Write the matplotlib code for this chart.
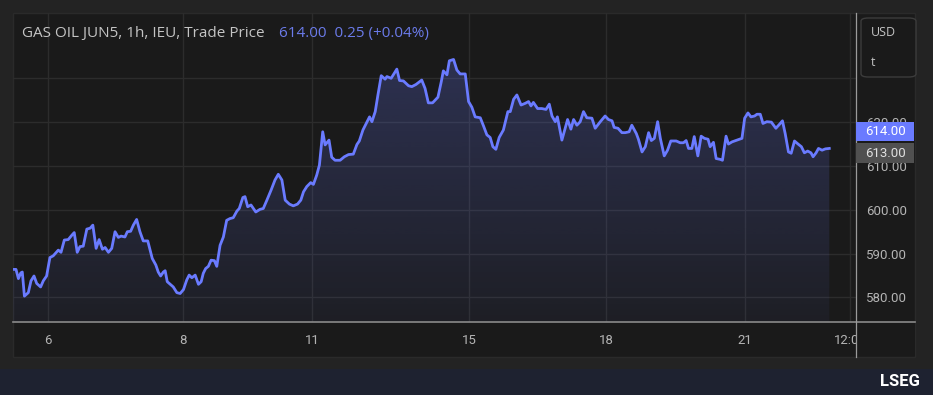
import numpy as np
import matplotlib
matplotlib.use("Agg")
import matplotlib.pyplot as plt
from matplotlib.patches import Rectangle, FancyBboxPatch
from matplotlib.lines import Line2D

# hourly bars (hours since first bar) and trade price
hours = [
    0.0, 1.0, 1.8, 2.6, 3.1, 3.8, 5.1, 6.0, 7.0, 7.9, 9.2, 10.1, 11.2, 12.3, 13.4,
    15.1, 16.0, 17.1, 18.4, 19.6, 20.4, 21.4, 22.3, 23.4, 24.6, 25.7, 26.6, 27.7,
    28.7, 29.8, 30.7, 31.8, 32.9, 34.0, 35.1, 36.0, 37.3, 38.1, 39.2, 40.1, 41.2,
    42.3, 43.4, 44.9,
    46.4, 47.6, 48.4, 49.2, 50.1, 50.7, 51.4, 52.7, 53.4, 54.6, 55.7, 56.8, 57.9,
    58.7, 59.6, 60.7, 61.8, 62.7, 63.4, 64.2, 65.1, 66.0, 67.1, 67.9, 69.0, 70.1,
    71.2, 72.3, 73.4, 74.6, 75.4, 76.6, 77.3, 78.2, 79.3, 80.9, 82.3, 83.4, 84.6,
    86.0, 87.3, 88.4, 89.6,
    90.7, 92.1, 93.4, 94.8, 95.9, 96.8, 97.9, 99.2, 100.1, 101.2, 102.1, 103.2,
    104.0, 104.8, 105.3, 106.2, 107.3, 109.0, 110.4, 111.8, 113.4, 114.6, 115.4,
    116.6, 117.7, 118.8, 119.6, 120.7, 121.6, 122.7, 124.0, 124.6, 126.0, 127.9,
    128.8, 130.1, 131.8, 132.9, 134.3, 136.2,
    137.3, 138.4, 139.8, 141.6, 142.7, 143.4, 144.6, 145.4, 146.8, 147.9, 149.0,
    150.7, 151.8, 152.9, 154.0, 155.7, 156.8, 157.9, 159.0, 159.9, 160.9, 162.0,
    163.4, 164.9, 165.7, 166.8, 167.9, 169.3, 170.7, 171.8, 172.6, 173.4, 174.8,
    176.2, 177.6, 178.7, 179.6, 180.7,
    181.4, 182.9, 184.8, 185.9, 186.8, 187.9, 189.0, 190.1, 191.2, 192.9, 194.0,
    195.7, 197.3, 198.4, 199.6, 200.3, 201.6, 202.9, 204.0, 205.3, 206.2, 207.7,
    208.4, 209.6, 210.7, 211.8, 212.7, 213.7, 214.8, 215.7, 217.0, 218.1, 219.2,
    221.0, 222.3, 223.4, 224.3,
    225.1, 226.2, 227.0, 228.2, 229.3, 230.4, 231.6, 232.3, 233.4, 234.3, 235.7,
    236.4, 237.6, 238.4, 239.6, 241.2, 242.9, 243.8, 244.9, 245.9, 247.1, 247.9,
    249.0, 249.9, 251.2, 252.7, 254.2, 255.4, 256.4, 257.3, 258.4, 259.3, 260.4,
    261.6, 262.7, 263.7, 264.8, 265.9, 266.6, 267.6, 268.4, 269.6, 270.7, 272.0,
]
price = [
    586.4, 586.4, 584.3, 585.6, 585.8, 580.3, 581.1, 583.8, 584.9, 583.2, 582.4,
    583.8, 584.9, 589.1, 589.5, 590.8, 590.3, 593.1, 593.2, 594.2, 594.8, 590.3,
    591.6, 591.7, 595.6, 595.8, 596.5, 591.2, 593.2, 591.0, 591.4, 590.3, 591.2,
    595.0, 593.7, 594.0, 593.8, 595.0, 595.1, 596.5, 597.8, 595.0, 592.9, 592.9,
    588.9, 587.4, 585.8, 584.9, 585.8, 586.1, 583.6, 582.8, 582.4, 581.1, 580.9,
    581.8, 584.0, 585.1, 584.5, 585.1, 583.0, 583.6, 585.5, 586.6, 587.1, 588.5,
    588.4, 587.1, 591.9, 593.8, 597.6, 598.0, 598.2, 599.7, 600.3, 602.8, 603.0,
    600.7, 601.1, 599.5, 600.1, 600.3, 602.2, 604.5, 606.8, 608.1, 606.8,
    602.2, 601.3, 600.9, 601.3, 602.2, 604.1, 605.3, 606.2, 605.8, 607.9, 610.2,
    617.8, 614.8, 615.5, 615.9, 612.0, 611.3, 611.3, 612.1, 612.6, 612.7, 614.9,
    615.7, 618.2, 619.7, 621.2, 620.1, 622.4, 626.2, 630.6, 629.8, 630.4, 630.0,
    632.1, 629.5, 629.4, 628.3, 628.1, 628.6, 629.6,
    627.7, 624.4, 624.4, 625.7, 629.2, 631.7, 630.8, 634.0, 634.3, 631.9, 631.0,
    631.0, 624.7, 623.4, 621.2, 621.0, 619.1, 617.1, 616.5, 614.4, 613.8, 616.5,
    618.2, 622.4, 622.4, 625.2, 626.2, 623.9, 624.3, 624.7, 623.7, 624.5, 623.1,
    623.1, 622.9, 624.1, 621.4, 620.1,
    621.2, 615.9, 620.6, 618.4, 620.6, 619.3, 620.1, 622.4, 621.0, 620.9, 618.6,
    620.1, 621.4, 620.6, 620.3, 618.8, 618.6, 617.6, 617.6, 617.8, 619.3, 617.4,
    616.1, 613.2, 614.4, 617.6, 615.8, 616.3, 620.1, 616.3, 612.3, 613.6, 615.7,
    615.7, 615.3, 615.3, 615.8,
    614.0, 614.0, 616.7, 612.3, 616.8, 616.3, 616.1, 614.4, 615.4, 611.7, 611.5,
    611.3, 616.8, 615.0, 615.5, 615.9, 616.3, 620.9, 622.1, 621.2, 621.4, 621.8,
    621.8, 619.7, 620.1, 620.0, 618.6, 619.5, 620.3, 617.4, 613.2, 612.9, 615.7,
    615.0, 614.4, 613.0, 613.4, 613.0, 612.1, 613.0, 614.0, 613.6, 613.9, 614.0,
]

tick_pos = [11.6, 56.8, 99.6, 152.0, 197.6, 243.8, 279.0]
tick_labels = ["6", "8", "11", "15", "18", "21", "12:00"]
y_ticks = [580, 590, 600, 610, 620, 630]
y_labels = ["580.00", "590.00", "600.00", "610.00", "620.00", ""]

title = "GAS OIL JUN5, 1h, IEU, Trade Price"
last_text = "614.00  0.25 (+0.04%)"
last_price = "614.00"
prev_close = "613.00"

W, H = 933, 395
bg_outer = "#232323"
bg_panel = "#1a1a1a"
grid_c = "#2c2c2c"
line_c = "#6a7bff"
text_c = "#c4c4c4"

fig = plt.figure(figsize=(W / 100, H / 100), dpi=100, facecolor=bg_outer)


def fx(px):
    return px / W


def fy(py):
    return 1 - py / H


# chart panel
fig.patches.append(Rectangle((fx(13), fy(357)), fx(915 - 13), (357 - 13) / H,
                             transform=fig.transFigure, facecolor=bg_panel,
                             edgecolor="#2a2a2a", lw=1, zorder=-1))
# bottom band
fig.patches.append(Rectangle((0, 0), 1, (H - 369) / H, transform=fig.transFigure,
                             facecolor="#1e2230", edgecolor="none", zorder=-1))

ax = fig.add_axes([fx(13), fy(322), fx(856 - 13), (322 - 13) / H])
ax.patch.set_alpha(0)

ymin, ymax = 574.4, 644.9

# gradient fill under the line
x = np.array(hours)
y = np.array(price)
poly = ax.fill_between(x, y, ymin, color="none", lw=0)
grad = np.linspace(0.05, 0.24, 256).reshape(-1, 1)
rgba = np.zeros((256, 1, 4))
rgba[..., 0] = 0x6a / 255
rgba[..., 1] = 0x7b / 255
rgba[..., 2] = 1.0
rgba[..., 3] = grad
img = ax.imshow(rgba, extent=[x.min(), x.max(), ymin, y.max()], origin="lower",
                aspect="auto", zorder=1)
img.set_clip_path(poly.get_paths()[0], transform=ax.transData)
ax.set_xlim(0, 280.9)
ax.set_ylim(ymin, ymax)

ax.plot(x, y, color=line_c, lw=2.0, zorder=3, solid_joinstyle="round")

ax.set_yticks(y_ticks)
ax.set_yticklabels(y_labels)
ax.set_xticks(tick_pos)
ax.set_xticklabels(tick_labels)
ax.yaxis.tick_right()
ax.tick_params(axis="y", length=0, pad=7, colors="#b4b4b4", labelsize=9.5)
ax.tick_params(axis="x", length=0, pad=9, colors="#b4b4b4", labelsize=9.5)
for lab in ax.get_xticklabels() + ax.get_yticklabels():
    lab.set_fontfamily("Roboto")
ax.grid(True, color=grid_c, lw=1)
ax.set_axisbelow(True)
for s in ax.spines.values():
    s.set_visible(False)

# cover the clipped part of the last date label
fig.patches.append(Rectangle((fx(856.5), fy(356)), fx(915 - 856.5), (356 - 323) / H,
                             transform=fig.transFigure, facecolor=bg_panel,
                             edgecolor="none", zorder=2))
# axis separators
fig.lines.append(Line2D([fx(13), fx(915)], [fy(322), fy(322)], transform=fig.transFigure,
                        color="#8a8a8a", lw=1.2, zorder=3))
fig.lines.append(Line2D([fx(855.5), fx(855.5)], [fy(13), fy(357)], transform=fig.transFigure,
                        color="#9a9a9a", lw=0.9, zorder=3))

# title
fig.text(fx(22), fy(33), title, color=text_c, fontsize=11, family="Open Sans",
         va="center", ha="left")
fig.text(fx(279), fy(33), last_text, color="#6b7bea", fontsize=11, family="Open Sans",
         va="center", ha="left")

# unit box
fig.patches.append(FancyBboxPatch((fx(861), fy(77)), fx(916 - 861), (77 - 18) / H,
                                  boxstyle="round,pad=0,rounding_size=0.008",
                                  transform=fig.transFigure, facecolor=bg_panel,
                                  edgecolor="#3c3c3c", lw=1, zorder=4))
fig.text(fx(871), fy(33), "USD", color=text_c, fontsize=9, family="Open Sans",
         va="center", ha="left", zorder=5)
fig.text(fx(871), fy(63), "t", color=text_c, fontsize=9, family="Open Sans",
         va="center", ha="left", zorder=5)

# price labels
fig.patches.append(Rectangle((fx(856), fy(141)), fx(914 - 856), 19 / H,
                             transform=fig.transFigure, facecolor="#6a7bff",
                             edgecolor="none", zorder=4))
fig.text(fx(885), fy(131.5), last_price, color="white", fontsize=9.5, family="Roboto",
         va="center", ha="center", zorder=5)
fig.patches.append(Rectangle((fx(856), fy(163)), fx(914 - 856), 20 / H,
                             transform=fig.transFigure, facecolor="#505050",
                             edgecolor="none", zorder=4))
fig.text(fx(885), fy(153), prev_close, color="#e0e0e0", fontsize=9.5, family="Roboto",
         va="center", ha="center", zorder=5)

# LSEG mark
fig.text(fx(920), fy(381), "LSEG", color="white", fontsize=12, family="Roboto",
         weight="bold", va="center", ha="right")

fig.savefig("out.png", dpi=100, facecolor=bg_outer)
